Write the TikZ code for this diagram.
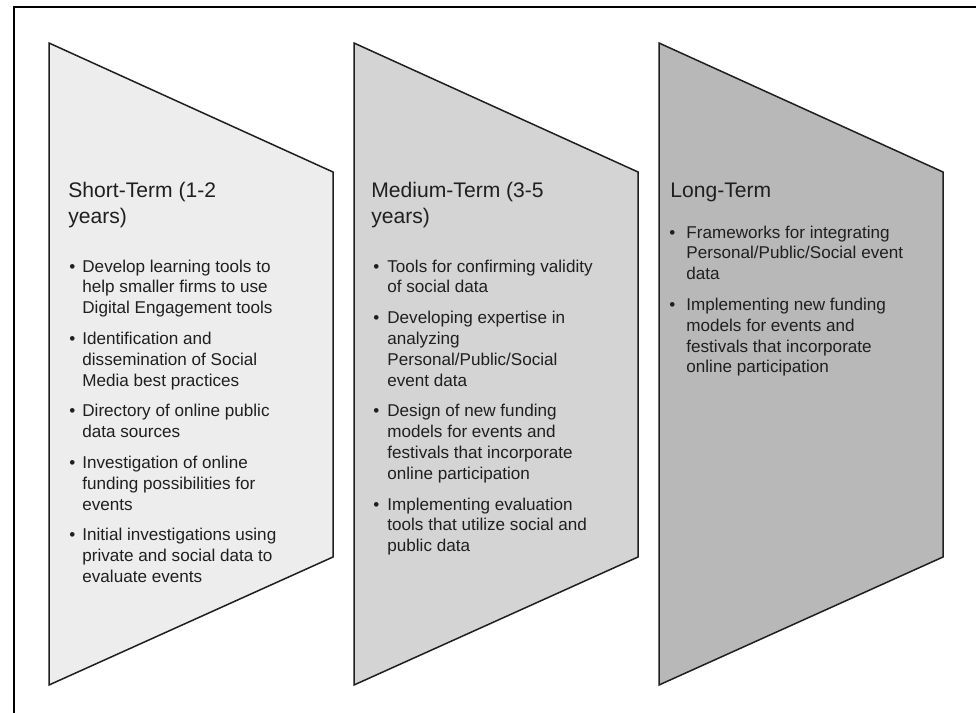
\documentclass[tikz,border=0pt]{standalone}
\usepackage{fontspec}
\setmainfont{Liberation Sans}
\usepackage{xcolor}
\usepackage{tikz}
\usetikzlibrary{positioning}

\newcommand{\stack}[1]{\begin{tabular}[t]{@{}l@{}}#1\end{tabular}}
\newcommand{\bul}[1]{\makebox[#1][l]{\textbullet}}
\newcommand{\itemgap}{5pt}

\begin{document}
\begin{tikzpicture}[
    x=0.5pt, y=-0.5pt,
    frameline/.style={line width=1.3pt, black},
    stage/.style={draw=black!88, line width=0.75pt, line join=miter},
    titlenode/.style={anchor=base west, inner sep=0pt, text=black!88, font=\fontsize{10.55}{13}\selectfont},
    listnode/.style={anchor=base west, inner sep=0pt, text=black!88, font=\fontsize{8.55}{10.4}\selectfont}
]
\useasboundingbox (0,0) rectangle (976,713);

% Frame (only top and left edges visible)
\draw[frameline] (14,713) -- (14,7) -- (976,7);

% Stage shapes
\foreach \dx/\shade in {49/black!7, 354/black!17, 659/black!28} {
    \draw[stage, fill=\shade] (\dx,43) -- ++(284,129) -- ++(0,385) -- (\dx,685) -- cycle;
}

% Titles
\node[titlenode] (shortT) at (68,197) {\stack{Short-Term (1-2\\years)}};
\node[titlenode] (medT) at (371,197) {\stack{Medium-Term (3-5\\years)}};
\node[titlenode] (longT) at (670,197) {\stack{Long-Term}};

% Short-term items
\node[listnode] (shortL) at (69,272) {\begin{tabular}[t]{@{}l@{}l@{}}
    \bul{6.5pt} & Develop learning tools to\\
     & help smaller firms to use\\
     & Digital Engagement tools\\[\itemgap]
    \bul{6.5pt} & Identification and\\
     & dissemination of Social\\
     & Media best practices\\[\itemgap]
    \bul{6.5pt} & Directory of online public\\
     & data sources\\[\itemgap]
    \bul{6.5pt} & Investigation of online\\
     & funding possibilities for\\
     & events\\[\itemgap]
    \bul{6.5pt} & Initial investigations using\\
     & private and social data to\\
     & evaluate events
\end{tabular}};

% Medium-term items
\node[listnode] (medL) at (373,272) {\begin{tabular}[t]{@{}l@{}l@{}}
    \bul{7pt} & Tools for confirming validity\\
     & of social data\\[\itemgap]
    \bul{7pt} & Developing expertise in\\
     & analyzing\\
     & Personal/Public/Social\\
     & event data\\[\itemgap]
    \bul{7pt} & Design of new funding\\
     & models for events and\\
     & festivals that incorporate\\
     & online participation\\[\itemgap]
    \bul{7pt} & Implementing evaluation\\
     & tools that utilize social and\\
     & public data
\end{tabular}};

% Long-term items
\node[listnode] (longL) at (669,238) {\begin{tabular}[t]{@{}l@{}l@{}}
    \bul{8.5pt} & Frameworks for integrating\\
     & Personal/Public/Social event\\
     & data\\[\itemgap]
    \bul{8.5pt} & Implementing new funding\\
     & models for events and\\
     & festivals that incorporate\\
     & online participation
\end{tabular}};

\end{tikzpicture}
\end{document}
